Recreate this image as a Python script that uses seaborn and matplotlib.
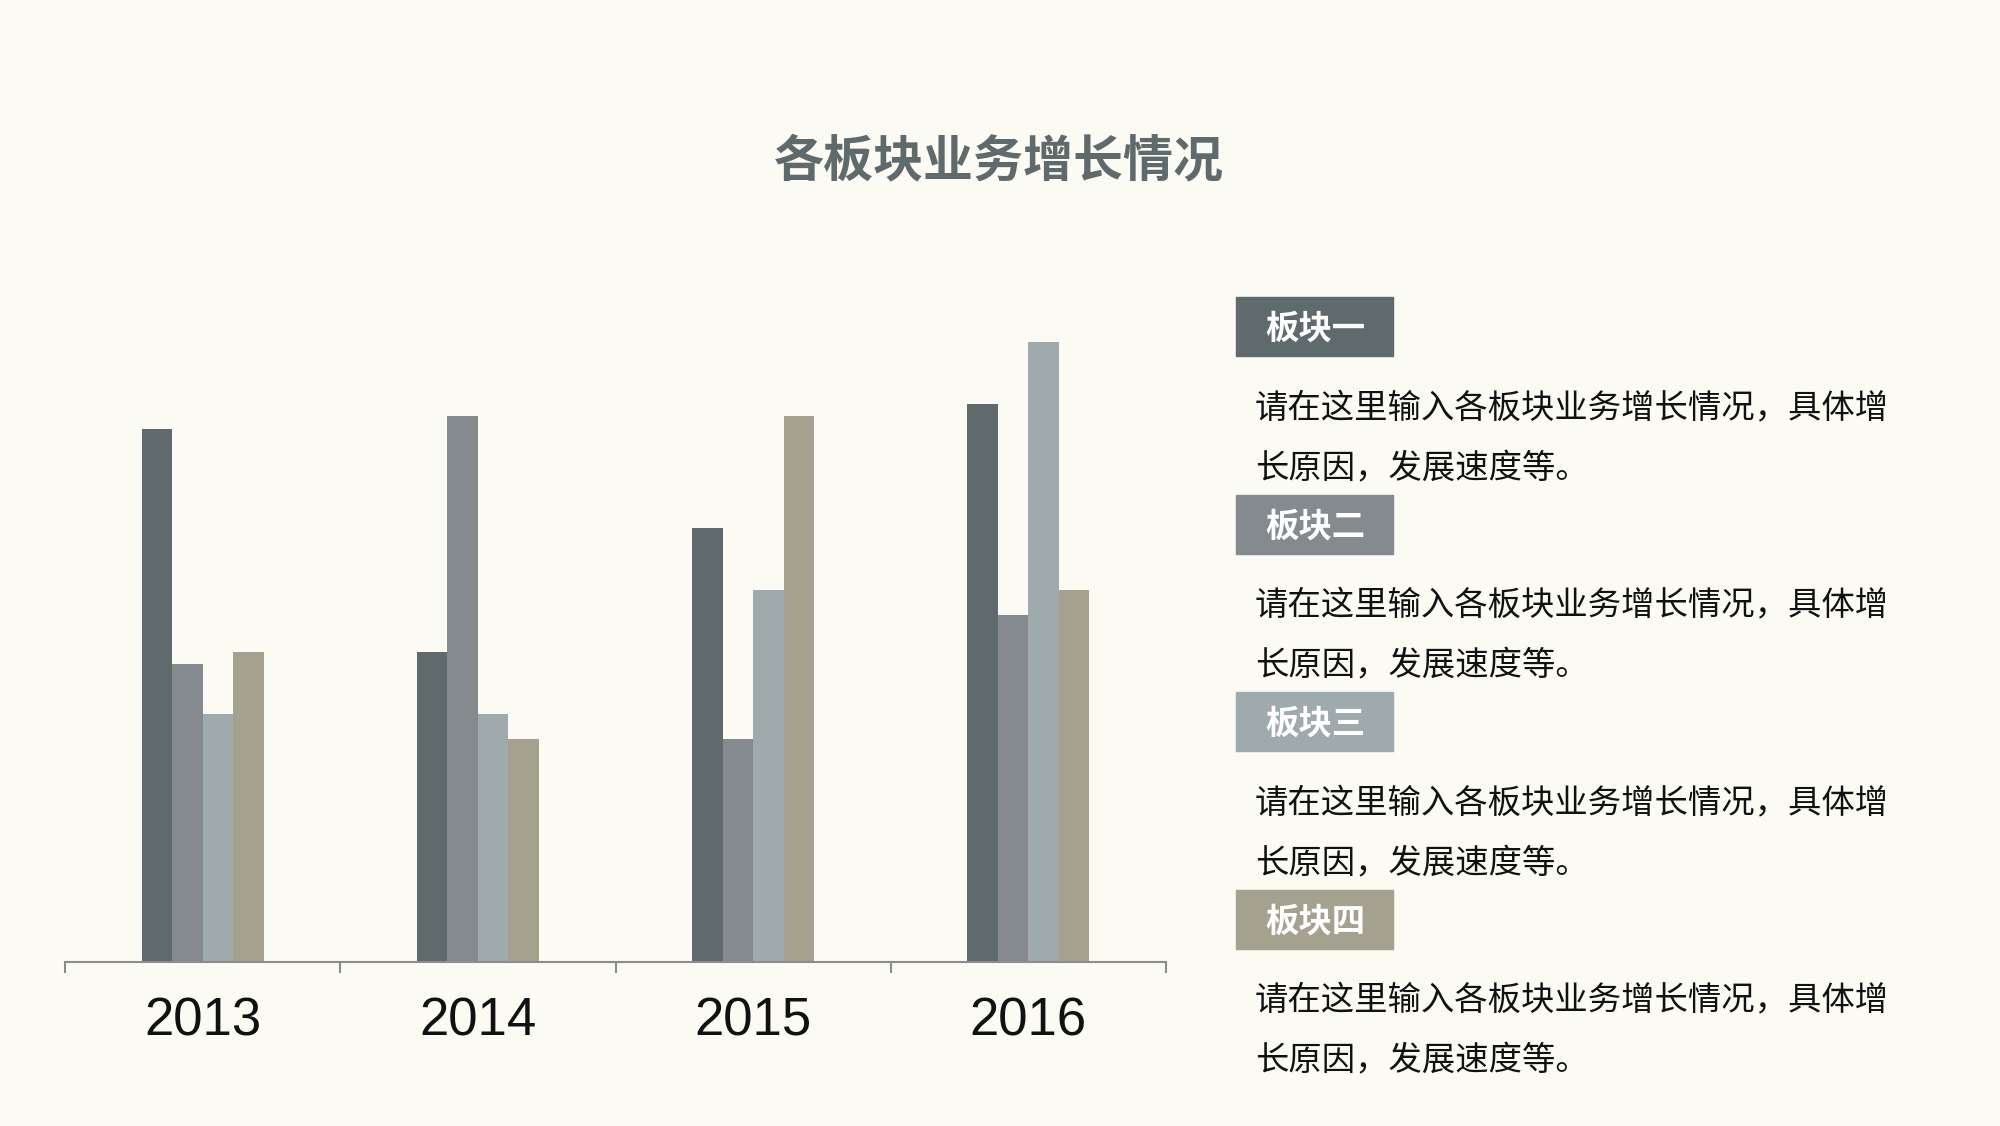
import matplotlib
matplotlib.use('Agg')
import matplotlib.pyplot as plt
from matplotlib.patches import Rectangle
import pandas as pd
import seaborn as sns

# chart data
years = ['2013', '2014', '2015', '2016']
segments = ['板块一', '板块二', '板块三', '板块四']
seg1 = [4.3, 2.5, 3.5, 4.5]
seg2 = [2.4, 4.4, 1.8, 2.8]
seg3 = [2.0, 2.0, 3.0, 5.0]
seg4 = [2.5, 1.8, 4.4, 3.0]
colors = ['#5E6A6B', '#858A8F', '#9FAAAD', '#A4A18F']
title = '各板块业务增长情况'
desc = ['请在这里输入各板块业务增长情况，具体增', '长原因，发展速度等。']

bg = '#FBFAF3'

sns.set_style('white')
plt.rcParams['font.family'] = ['Noto Sans CJK SC', 'DejaVu Sans']

rows = []
for seg, vals in zip(segments, [seg1, seg2, seg3, seg4]):
    for y, v in zip(years, vals):
        rows.append({'year': y, 'value': v, 'segment': seg})
df = pd.DataFrame(rows)

fig = plt.figure(figsize=(20, 11.26), dpi=100, facecolor=bg)
ax = fig.add_axes([0.0325, 0.1456, 0.5505, 0.661])
ax.set_facecolor(bg)

sns.barplot(data=df, x='year', y='value', hue='segment', hue_order=segments,
            palette=colors, width=0.444, gap=0, saturation=1, ax=ax,
            legend=False, errorbar=None, linewidth=0)

ax.set_xlim(-0.5, 3.5)
ax.set_ylim(0, 6)
ax.set_xlabel('')
ax.set_ylabel('')
ax.set_yticks([])
for s in ['top', 'right', 'left']:
    ax.spines[s].set_visible(False)
ax.spines['bottom'].set_color('#8C8C8C')
ax.spines['bottom'].set_linewidth(1.5)

ax.set_xticks([0, 1, 2, 3])
ax.set_xticklabels(years, family='Liberation Sans', fontsize=38, color='#111111')
ax.tick_params(axis='x', which='major', length=0, pad=25)
ax.set_xticks([-0.5, 0.5, 1.5, 2.5, 3.5], minor=True)
ax.tick_params(axis='x', which='minor', bottom=True, length=8, width=1.5,
               color='#8C8C8C', direction='out')

# title
fig.text(0.4995, 0.856, title, ha='center', va='center', fontsize=36,
         fontweight='bold', color='#5E6A6B')

# right panel
step = 0.1754
for i, seg in enumerate(segments):
    y0 = 0.6838 - i * step
    fig.patches.append(Rectangle((0.618, y0), 0.0785, 0.0524,
                                 transform=fig.transFigure, color=colors[i],
                                 zorder=1))
    fig.text(0.6325, y0 + 0.0238, seg, ha='left', va='center', fontsize=24,
             fontweight='bold', color='white')
    fig.text(0.6275, 0.6372 - i * step, desc[0], ha='left', va='center',
             fontsize=24, color='#111111')
    fig.text(0.6275, 0.5839 - i * step, desc[1], ha='left', va='center',
             fontsize=24, color='#111111')

fig.savefig('out.png', dpi=100, facecolor=bg)
